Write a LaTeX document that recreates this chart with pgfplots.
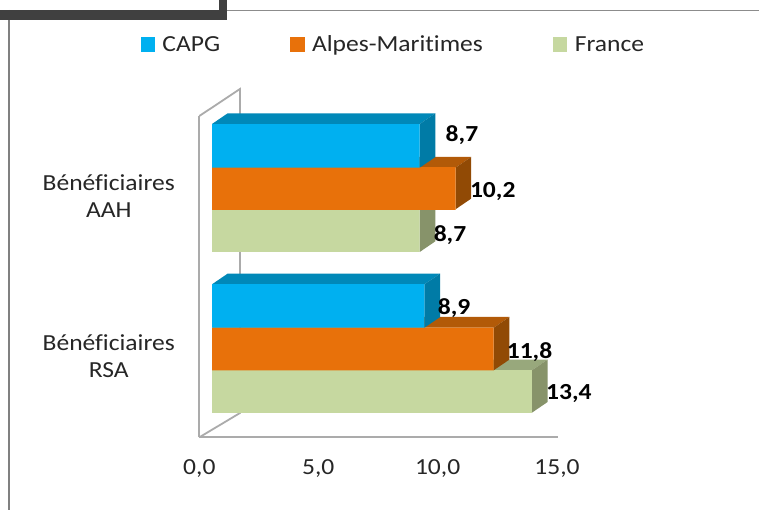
\documentclass[border=0pt]{standalone}
\usepackage{fontspec}
\setmainfont[FakeStretch=1.11,Ligatures=NoCommon,BoldFeatures={FakeStretch=1.11,Ligatures=NoCommon}]{Carlito}
\usepackage{pgfplots}
\pgfplotsset{compat=1.18}
\definecolor{cb}{HTML}{00B0F0}\definecolor{cbt}{HTML}{0088B8}\definecolor{cbs}{HTML}{007BA6}
\definecolor{co}{HTML}{E8710A}\definecolor{cot}{HTML}{B25A08}\definecolor{cos}{HTML}{914A05}
\definecolor{cg}{HTML}{C6D8A0}\definecolor{cgt}{HTML}{98A87C}\definecolor{cgs}{HTML}{87936A}
\definecolor{wall}{HTML}{ABABAB}\definecolor{txt}{HTML}{262626}
\begin{document}
\begin{tikzpicture}[x=1pt,y=1pt]
\path[use as bounding box,clip] (0,0) rectangle (759,510);
\fill[white] (0,0) rectangle (759,510);
\draw[color=black!45,line width=1pt] (227,499.5) -- (759,499.5);
\draw[color=black!50,line width=2pt] (9,500) -- (9,0);
\fill[black!75] (0,490) rectangle (227,500);
\fill[black!75] (219,490) rectangle (227,510);
\begin{axis}[
  at={(199.35pt,72.7pt)},anchor=south west,
  scale only axis,width=358.8pt,height=321.3pt,
  xmin=-0.53,xmax=14.5,ymin=72.7,ymax=394,
  clip=false,
  axis x line=bottom,axis y line=left,
  axis line style={wall,line width=1.8pt,-},
  major tick length=0pt,
  xtick={-0.53,4.45,9.45,14.45},
  xticklabels={{0,0},{5,0},{10,0},{15,0}},
  ytick={314,154},
  yticklabels={{Bénéficiaires\\AAH},{Bénéficiaires\\RSA}},
  yticklabel style={align=center,font=\fontsize{23}{26.5}\selectfont,text=txt,xshift=-21pt},
  xticklabel style={font=\fontsize{23}{26}\selectfont,text=txt,yshift=-19pt},
  legend columns=3,
  legend style={draw=none,fill=none,at={(axis cs:-3.0,466)},anchor=west,
    font=\fontsize{23}{26}\selectfont,text=txt,
    nodes={text height=20pt,text depth=4pt},
    /tikz/every odd column/.append style={column sep=6pt},
    /tikz/every even column/.append style={column sep=68pt},inner sep=0pt},
  legend cell align=left,
  legend image code/.code={\fill[#1] (0pt,-7pt) rectangle (13.5pt,7pt);},
]
\addlegendimage{cb}\addlegendentry{CAPG}
\addlegendimage{co}\addlegendentry{Alpes-Maritimes}
\addlegendimage{cg}\addlegendentry{France}
% walls
\addplot[wall,line width=1.8pt,forget plot] coordinates {(-0.53,394)(1.173,421)(1.173,97)(-0.53,72.7)};
% green
\addplot[fill=cgt,draw=none,forget plot] coordinates {(0,300.7)(8.7,300.7)(9.358,311.4)(0.658,311.4)};
\addplot[fill=cgs,draw=none,forget plot] coordinates {(8.7,300.7)(9.358,311.4)(9.358,268.7)(8.7,258)};
\addplot[fill=cgt,draw=none,forget plot] coordinates {(0,139.7)(13.4,139.7)(14.058,150.4)(0.658,150.4)};
\addplot[fill=cgs,draw=none,forget plot] coordinates {(13.4,139.7)(14.058,150.4)(14.058,108)(13.4,97.3)};
\addplot[xbar,bar width=42.7pt,bar shift=0pt,fill=cg,draw=none,forget plot] coordinates {(8.7,279.35)(13.4,118.5)};
% orange
\addplot[fill=cot,draw=none,forget plot] coordinates {(0,342.3)(10.2,342.3)(10.858,353)(0.658,353)};
\addplot[fill=cos,draw=none,forget plot] coordinates {(10.2,342.3)(10.858,353)(10.858,311.4)(10.2,300.7)};
\addplot[fill=cot,draw=none,forget plot] coordinates {(0,182.3)(11.8,182.3)(12.458,193)(0.658,193)};
\addplot[fill=cos,draw=none,forget plot] coordinates {(11.8,182.3)(12.458,193)(12.458,150.4)(11.8,139.7)};
\addplot[xbar,bar width=42.6pt,bar shift=0pt,fill=co,draw=none,forget plot] coordinates {(10.2,321.5)(11.8,161)};
% blue
\addplot[fill=cbt,draw=none,forget plot] coordinates {(0,386)(8.7,386)(9.358,396.7)(0.658,396.7)};
\addplot[fill=cbs,draw=none,forget plot] coordinates {(8.7,386)(9.358,396.7)(9.358,353)(8.7,342.3)};
\addplot[fill=cbt,draw=none,forget plot] coordinates {(0,225.7)(8.9,225.7)(9.558,236.4)(0.658,236.4)};
\addplot[fill=cbs,draw=none,forget plot] coordinates {(8.9,225.7)(9.558,236.4)(9.558,193)(8.9,182.3)};
\addplot[xbar,bar width=43.5pt,bar shift=0pt,fill=cb,draw=none,forget plot] coordinates {(8.7,364.15)(8.9,204)};
% labels
\begin{scope}[every node/.style={font=\fontsize{23}{26}\selectfont\bfseries,text=black}]
\node at (axis cs:10.47,375.3) {8,7};
\node at (axis cs:11.76,318) {10,2};
\node at (axis cs:9.97,275.3) {8,7};
\node at (axis cs:10.14,201.8) {8,9};
\node at (axis cs:13.3,158) {11,8};
\node at (axis cs:14.95,116.3) {13,4};
\end{scope}
\end{axis}
\end{tikzpicture}
\end{document}
